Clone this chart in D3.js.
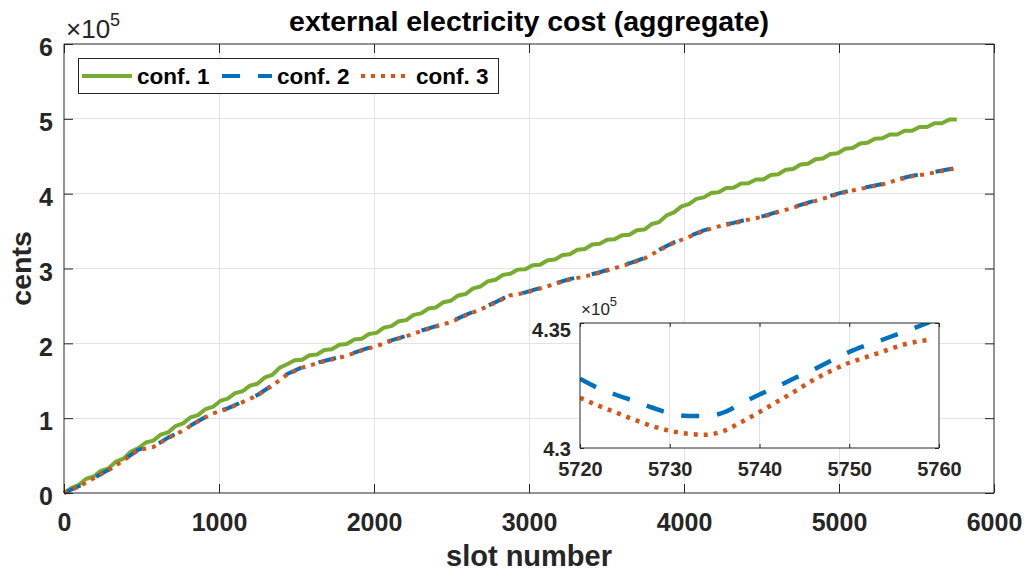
<!DOCTYPE html>
<html><head><meta charset="utf-8">
<script src="https://cdn.jsdelivr.net/npm/d3@7"></script>
<style>
body{margin:0;background:#fff}
text{font-family:"Liberation Sans",Arial,Helvetica,sans-serif}
</style></head>
<body>
<svg id="c" width="1027" height="571"></svg>
<script>
// ---- data (values in units of 10^5 cents) ----
const slots1 = d3.range(0, 5761, 48);   // conf. 1 sampled twice per day
const slots = d3.range(0, 5761, 96);    // conf. 2 / conf. 3 sampled daily
const conf1 = [
  0,0.07,0.11,0.19,0.22,0.30,0.33,0.42,0.46,0.555,
  0.60,0.675,0.70,0.78,0.81,0.895,0.93,1.01,1.04,1.12,
  1.15,1.23,1.26,1.335,1.36,1.435,1.46,1.545,1.58,1.675,
  1.72,1.775,1.78,1.84,1.85,1.91,1.92,1.98,1.99,2.05,
  2.06,2.125,2.14,2.21,2.23,2.295,2.31,2.38,2.40,2.465,
  2.48,2.55,2.57,2.64,2.66,2.735,2.76,2.83,2.85,2.915,
  2.93,2.985,2.99,3.045,3.05,3.11,3.12,3.18,3.19,3.25,
  3.26,3.32,3.33,3.385,3.39,3.445,3.45,3.51,3.52,3.595,
  3.62,3.71,3.75,3.83,3.86,3.93,3.95,4.01,4.02,4.075,
  4.08,4.135,4.14,4.19,4.19,4.25,4.26,4.32,4.33,4.39,
  4.40,4.46,4.47,4.53,4.54,4.60,4.61,4.67,4.68,4.735,
  4.74,4.79,4.79,4.84,4.84,4.89,4.89,4.94,4.94,4.99,
  4.99];
const conf2 = [0,0.09,0.20,0.31,0.44,0.58,0.62,0.74,0.84,0.96,1.07,1.13,1.22,1.31,1.44,1.59,1.68,1.74,1.79,1.84,1.91,1.97,2.04,2.10,2.17,2.23,2.29,2.38,2.46,2.55,2.65,2.68,2.74,2.80,2.86,2.90,2.95,3.01,3.07,3.14,3.25,3.35,3.43,3.51,3.57,3.61,3.66,3.70,3.76,3.82,3.88,3.94,4.00,4.05,4.09,4.13,4.19,4.24,4.27,4.31,4.345];
const conf3 = [0,0.088,0.196,0.306,0.435,0.575,0.615,0.735,0.834,0.955,1.064,1.124,1.214,1.304,1.434,1.584,1.674,1.733,1.784,1.834,1.904,1.963,2.034,2.094,2.163,2.224,2.284,2.373,2.453,2.544,2.642,2.674,2.733,2.793,2.853,2.894,2.943,3.003,3.063,3.133,3.243,3.343,3.423,3.503,3.563,3.603,3.653,3.693,3.753,3.813,3.873,3.933,3.993,4.043,4.083,4.123,4.183,4.233,4.263,4.303,4.339];
const seriesNames = ["conf. 1","conf. 2","conf. 3"];
const xTicks = [0,1000,2000,3000,4000,5000,6000];
const yTicks = [0,1,2,3,4,5,6];

const insetSlots = [5720,5722,5724,5726,5728,5730,5732,5734,5736,5738,5740,5742,5744,5746,5748,5750,5752,5754,5756,5758,5759];
const insetConf2 = [4.3277,4.3240,4.3213,4.3188,4.3162,4.3139,4.3128,4.3128,4.3142,4.3178,4.3214,4.3245,4.3281,4.3313,4.3350,4.3384,4.3412,4.3437,4.3463,4.3490,4.3504];
const insetConf3 = [4.3201,4.3170,4.3142,4.3114,4.3088,4.3069,4.3057,4.3053,4.3068,4.3104,4.3144,4.3186,4.3228,4.3272,4.3309,4.3341,4.3365,4.3389,4.3413,4.3428,4.3432];
const insetXTicks = [5720,5730,5740,5750,5760];
const insetYTicks = [4.3,4.35];

// ---- styles ----
const colors = ["#77AC30","#0072BD","#D95319"];
const dashes = [null,"18,18","4,6"];
const axisCol = "#262626", gridCol = "#e3e3e3";
const LW = 4;

const svg = d3.select("#c");
const M = {l:64, r:994, t:44, b:493};
const x = d3.scaleLinear().domain([0,6000]).range([M.l,M.r]);
const y = d3.scaleLinear().domain([0,6]).range([M.b,M.t]);

function drawGrid(g, xs, ys, xt, yt, ygrid){
  const [x0,x1] = xs.range(), [y0,y1] = ys.range();
  g.append("g").selectAll("line").data(xt.filter(t=>t>xs.domain()[0]&&t<xs.domain()[1])).join("line")
    .attr("x1",d=>xs(d)).attr("x2",d=>xs(d)).attr("y1",y0).attr("y2",y1)
    .attr("stroke",gridCol).attr("stroke-width",1).attr("shape-rendering","crispEdges");
  if(ygrid) g.append("g").selectAll("line").data(yt.filter(t=>t>ys.domain()[0]&&t<ys.domain()[1])).join("line")
    .attr("x1",x0).attr("x2",x1).attr("y1",d=>ys(d)).attr("y2",d=>ys(d))
    .attr("stroke",gridCol).attr("stroke-width",1).attr("shape-rendering","crispEdges");
}
function drawFrame(g, xs, ys, xt, yt, opt){
  const [x0,x1] = xs.range(), [y0,y1] = ys.range();
  const gx = g.append("g").attr("transform",`translate(0,${y0})`)
    .call(d3.axisBottom(xs).tickValues(xt).tickSize(-opt.tick).tickPadding(opt.xpad).tickFormat(d3.format("d")));
  const gy = g.append("g").attr("transform",`translate(${x0},0)`)
    .call(d3.axisLeft(ys).tickValues(yt).tickSize(-opt.tick).tickPadding(opt.ypad).tickFormat(opt.yfmt));
  const gxt = g.append("g").attr("transform",`translate(0,${y1})`)
    .call(d3.axisTop(xs).tickValues(xt).tickSize(-opt.tick).tickFormat(""));
  const gyr = g.append("g").attr("transform",`translate(${x1},0)`)
    .call(d3.axisRight(ys).tickValues(yt).tickSize(-opt.tick).tickFormat(""));
  [gx,gy,gxt,gyr].forEach(a=>{
    a.selectAll(".domain").attr("stroke",axisCol).attr("stroke-width",1);
    a.selectAll(".tick line").attr("stroke",axisCol).attr("stroke-width",1);
    a.selectAll("text").attr("fill",axisCol).attr("font-size",opt.fs).attr("font-weight","bold")
      .attr("font-family",'"Liberation Sans",Arial,sans-serif');
  });
  gx.selectAll(".domain").attr("d",`M${x0},0H${x1}`);
  gxt.selectAll(".domain").attr("d",`M${x0},0H${x1}`);
  gy.selectAll(".domain").attr("d",`M0,${y0}V${y1}`);
  gyr.selectAll(".domain").attr("d",`M0,${y0}V${y1}`);
  gy.selectAll("text").attr("dy",opt.ydy);
  return {gx,gy};
}

// main axes
const main = svg.append("g");
drawGrid(main, x, y, xTicks, yTicks, true);

const line = d3.line().x(d=>x(d[0])).y(d=>y(d[1]));
const mainSeries = [[slots1,conf1],[slots,conf2],[slots,conf3]];
mainSeries.forEach(([xs,vals],i)=>{
  main.append("path").datum(xs.map((s,k)=>[s,vals[k]]))
    .attr("d",line).attr("fill","none").attr("stroke",colors[i]).attr("stroke-width",LW)
    .attr("stroke-dasharray",dashes[i]).attr("stroke-linejoin","round");
});
drawFrame(main, x, y, xTicks, yTicks, {tick:9, xpad:20, ypad:11, fs:25, ydy:"0.47em", yfmt:d3.format("d")});

// exponent label
const ex = svg.append("text").attr("x",66).attr("y",38).attr("fill",axisCol).attr("font-size",26);
ex.append("tspan").text("×10");
ex.append("tspan").attr("font-size",18).attr("dy",-12).text("5");

// title & labels
svg.append("text").attr("x",(M.l+M.r)/2).attr("y",31).attr("text-anchor","middle")
  .attr("font-size",28.5).attr("font-weight","bold").attr("fill","#000").text("external electricity cost (aggregate)");
svg.append("text").attr("x",(M.l+M.r)/2).attr("y",566).attr("text-anchor","middle")
  .attr("font-size",29).attr("font-weight","bold").attr("fill",axisCol).text("slot number");
svg.append("text").attr("transform",`translate(31,${(M.t+M.b)/2}) rotate(-90)`).attr("text-anchor","middle")
  .attr("font-size",28.5).attr("font-weight","bold").attr("fill",axisCol).text("cents");

// legend
const lg = svg.append("g");
lg.append("rect").attr("x",78.5).attr("y",58.5).attr("width",420).attr("height",35)
  .attr("fill","#fff").attr("stroke",axisCol).attr("stroke-width",1);
const legX = [82,222,361];
seriesNames.forEach((n,i)=>{
  lg.append("line").attr("x1",legX[i]).attr("x2",legX[i]+50).attr("y1",76).attr("y2",76)
    .attr("stroke",colors[i]).attr("stroke-width",LW).attr("stroke-dasharray",dashes[i]);
  lg.append("text").attr("x",legX[i]+55).attr("y",84).attr("font-size",22.5).attr("font-weight","bold")
    .attr("fill","#000").text(n);
});

// inset
const I = {l:580, r:939, t:323, b:448};
const xi = d3.scaleLinear().domain([5720,5760]).range([I.l,I.r]);
const yi = d3.scaleLinear().domain([4.3,4.35]).range([I.b,I.t]);
const ins = svg.append("g");
ins.append("rect").attr("x",I.l).attr("y",I.t).attr("width",I.r-I.l).attr("height",I.b-I.t).attr("fill","#fff");
drawGrid(ins, xi, yi, insetXTicks, insetYTicks, false);
ins.append("clipPath").attr("id","clipI").append("rect").attr("x",I.l).attr("y",I.t).attr("width",I.r-I.l).attr("height",I.b-I.t);
const linei = d3.line().x(d=>xi(d[0])).y(d=>yi(d[1])).curve(d3.curveMonotoneX);
[[insetConf2,1],[insetConf3,2]].forEach(([vals,i])=>{
  ins.append("path").datum(insetSlots.map((s,k)=>[s,vals[k]])).attr("clip-path","url(#clipI)")
    .attr("d",linei).attr("fill","none").attr("stroke",colors[i]).attr("stroke-width",LW+0.5)
    .attr("stroke-dasharray",dashes[i]);
});
const fr = drawFrame(ins, xi, yi, insetXTicks, insetYTicks, {tick:4, xpad:14, ypad:9, fs:20, ydy:"0.35em", yfmt:d3.format("")});
fr.gy.selectAll(".tick text").filter(d=>d===4.35).attr("dy","0.65em");
const exi = svg.append("text").attr("x",581).attr("y",315).attr("fill",axisCol).attr("font-size",17);
exi.append("tspan").text("×10");
exi.append("tspan").attr("font-size",13).attr("dy",-9).text("5");
</script>
</body></html>
